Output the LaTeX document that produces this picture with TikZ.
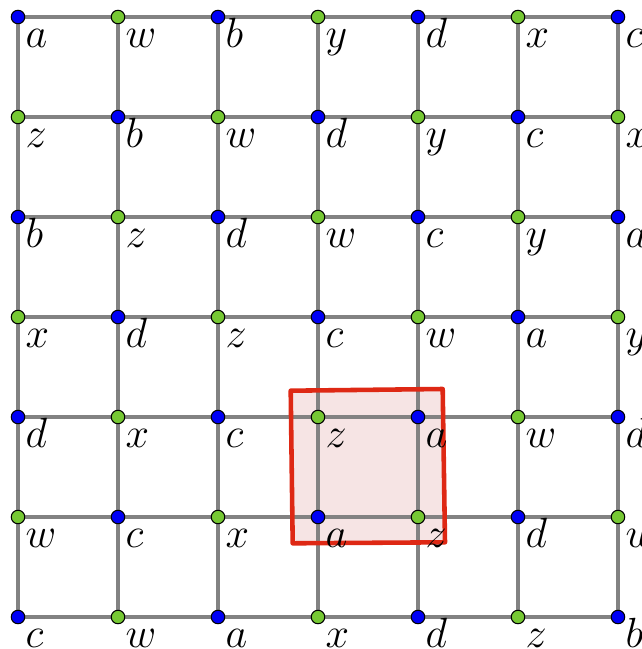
\documentclass[tikz,border=0pt]{standalone}
\usepackage{amsmath,amssymb}
\usepackage{tikz}
\usetikzlibrary{calc}
\definecolor{vblue}{RGB}{0,0,245}
\definecolor{vgreen}{RGB}{118,200,52}
\definecolor{sqred}{RGB}{222,40,20}
\definecolor{sqfill}{RGB}{246,228,228}
\definecolor{edgegray}{RGB}{130,130,130}
\tikzset{
  gridedge/.style={draw=edgegray,line width=1.1pt},
  bdot/.style={circle,draw=black,line width=0.3pt,fill=vblue,inner sep=0pt,minimum size=0.135cm},
  gdot/.style={bdot,fill=vgreen},
  lab/.style={anchor=base west,inner sep=0pt,font=\fontsize{11.5}{13}\selectfont}
}
\newcommand{\rowlabels}{{a,w,b,y,d,x,c},{z,b,w,d,y,c,x},{b,z,d,w,c,y,a},{x,d,z,c,w,a,y},{d,x,c,z,a,w,d},{w,c,x,a,z,d,w},{c,w,a,x,d,z,b}}

\begin{document}
\begin{tikzpicture}
\useasboundingbox (-0.18,0.17) rectangle (6.24,-6.32);
% grid points
\foreach \i in {0,...,6}
  \foreach \j in {0,...,6}
    \coordinate (p\i\j) at (\i,-\j);
% shaded square
\coordinate (s1) at (2.727,-3.737);
\coordinate (s2) at (4.247,-3.72);
\coordinate (s3) at (4.27,-5.253);
\coordinate (s4) at (2.747,-5.263);
\fill[sqfill] (s1) -- (s2) -- (s3) -- (s4) -- cycle;
% edges
\foreach \i in {0,...,6}
  \foreach \j in {0,...,5}{
    \pgfmathtruncatemacro\k{\j+1}
    \draw[gridedge] (p\i\j) -- (p\i\k);
    \draw[gridedge] (p\j\i) -- (p\k\i);
  }
\draw[sqred,line width=1.3pt,line join=round] (s1) -- (s2) -- (s3) -- (s4) -- cycle;
% vertices
\foreach \i in {0,...,6}
  \foreach \j in {0,...,6}{
    \pgfmathtruncatemacro\parity{mod(\i+\j,2)}
    \ifnum\parity=0
      \node[bdot] (v\i\j) at (p\i\j) {};
    \else
      \node[gdot] (v\i\j) at (p\i\j) {};
    \fi
  }
% labels
\foreach \row [count=\j from 0] in \rowlabels
  \foreach \l [count=\i from 0] in \row
    \node[lab] (l\i\j) at ($(p\i\j)+(0.07,-0.3)$) {$\l$};
\end{tikzpicture}
\end{document}
